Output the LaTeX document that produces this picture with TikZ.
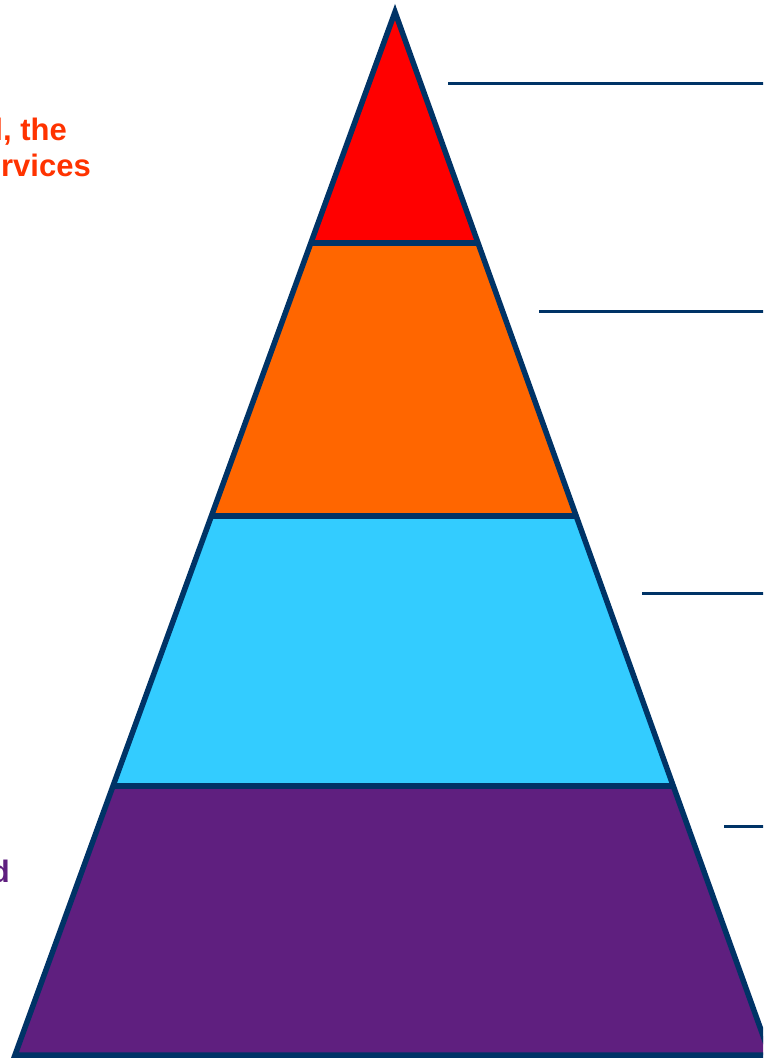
\documentclass[tikz,border=0pt]{standalone}
\usepackage{fontspec}
\setmainfont{Liberation Sans}
\usetikzlibrary{positioning}
\definecolor{navy}{HTML}{003366}
\definecolor{tipred}{HTML}{FF0000}
\definecolor{tierorange}{HTML}{FF6600}
\definecolor{tiercyan}{HTML}{33CCFF}
\definecolor{tierpurple}{HTML}{5F1F7F}
\definecolor{labelorange}{HTML}{FF3300}
\tikzset{
  tier/.style={draw=navy, line width=5.5pt, line join=miter},
  leader/.style={draw=navy, line width=3pt},
  lbl/.style={font=\fontsize{31}{36}\selectfont\bfseries, inner sep=0pt, anchor=base east}
}
\begin{document}
\begin{tikzpicture}[x=1pt, y=-1pt]
    \useasboundingbox (0,0) rectangle (763,1060);
    \clip (0,0) rectangle (763,1060);
    % corners of the tiers
    \coordinate (apex) at (395,12);
    \coordinate (l1) at (311,243);  \coordinate (r1) at (478,243);
    \coordinate (l2) at (212,516);  \coordinate (r2) at (576,516);
    \coordinate (l3) at (114,786);  \coordinate (r3) at (672,786);
    \coordinate (l4) at (15,1055);  \coordinate (r4) at (770,1055);

    \fill[tierpurple](l3)--(r3)--(r4)--(l4)--cycle;
    \fill[tiercyan](l2)--(r2)--(r3)--(l3)--cycle;
    \fill[tierorange](l1)--(r1)--(r2)--(l2)--cycle;
    \fill[tipred](apex)--(r1)--(l1)--cycle;

    \draw[tier](apex)--(r4)--(l4)--cycle;
    \draw[tier](l1)--(r1);
    \draw[tier](l2)--(r2);
    \draw[tier](l3)--(r3);

    % leader lines on the right
    \foreach \x/\y in {448/83, 539/311, 642/593, 724/826}
    {
        \draw[leader](\x,\y)--(770,\y);
    }

    % labels, cut off by the left edge
    \node[lbl, text=labelorange] (tiptxta) at (67,140) {l, the};
    \node[lbl, text=labelorange] (tiptxtb) at (91,176) {rvices};
    \node[lbl, text=tierpurple] (basetxt) at (10,882) {d};
\end{tikzpicture}
\end{document}
